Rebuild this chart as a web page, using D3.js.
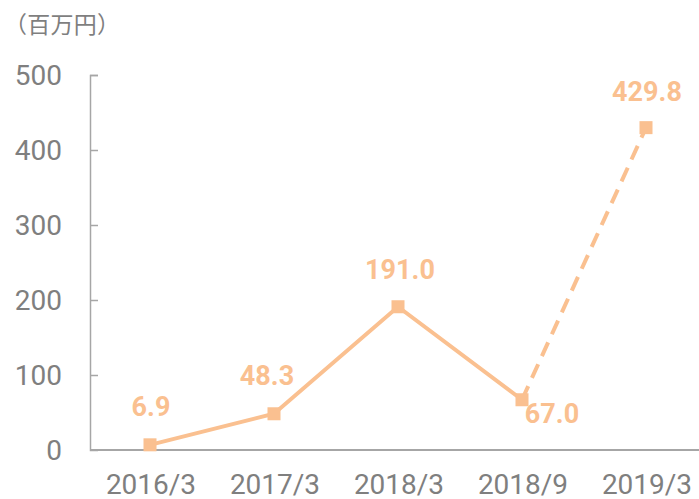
<!DOCTYPE html>
<html>
<head>
<meta charset="utf-8">
<script src="https://cdn.jsdelivr.net/npm/d3@7"></script>
<style>
  body { margin: 0; background: #fff; }
  text { font-family: Roboto, "Noto Sans CJK JP", sans-serif; }
</style>
</head>
<body>
<div id="chart"></div>
<script>
var categories = ["2016/3", "2017/3", "2018/3", "2018/9", "2019/3"];
var values = [6.9, 48.3, 191.0, 67.0, 429.8];
var yTicks = [0, 100, 200, 300, 400, 500];
var unitLabel = "（百万円）";

var width = 699, height = 499;
var orange = "#fac090", grey = "#7f7f7f", axisGrey = "#a6a6a6";

var svg = d3.select("#chart").append("svg")
    .attr("width", width)
    .attr("height", height);

var x = d3.scalePoint()
    .domain(categories)
    .range([88, 708])
    .padding(0.5);

var y = d3.scaleLinear()
    .domain([0, 500])
    .range([450, 75]);

// unit label
svg.append("text")
    .attr("x", 4)
    .attr("y", 33)
    .attr("fill", grey)
    .style("font-family", "'Noto Sans CJK JP', sans-serif")
    .style("font-size", "23px")
    .attr("textLength", 116)
    .text(unitLabel);

// y axis
var yAxis = svg.append("g")
    .attr("transform", "translate(90,0)")
    .call(d3.axisRight(y).tickValues(yTicks).tickSize(8).tickFormat(""));
yAxis.select(".domain").attr("stroke", axisGrey).attr("stroke-width", 1.5);
yAxis.selectAll(".tick line").attr("stroke", axisGrey).attr("stroke-width", 1.5);
yAxis.selectAll(".tick").filter(function(d) { return d === 0; }).remove();

svg.selectAll(".ylab")
    .data(yTicks)
    .enter().append("text")
    .attr("class", "ylab")
    .attr("x", 62)
    .attr("y", function(d) { return y(d) + 10; })
    .attr("text-anchor", "end")
    .attr("fill", grey)
    .style("font-size", "28px")
    .text(function(d) { return d; });

// x axis
svg.append("line")
    .attr("x1", 90).attr("x2", width)
    .attr("y1", y(0)).attr("y2", y(0))
    .attr("stroke", axisGrey)
    .attr("stroke-width", 2);

svg.selectAll(".xlab")
    .data(categories)
    .enter().append("text")
    .attr("class", "xlab")
    .attr("x", function(d) { return x(d) + 1; })
    .attr("y", 494)
    .attr("text-anchor", "middle")
    .attr("fill", grey)
    .style("font-size", "28px")
    .text(function(d) { return d; });

var pts = categories.map(function(c, i) { return {cat: c, v: values[i]}; });

var line = d3.line()
    .x(function(d) { return x(d.cat); })
    .y(function(d) { return y(d.v); });

svg.append("path")
    .datum(pts.slice(0, 4))
    .attr("d", line)
    .attr("fill", "none")
    .attr("stroke", orange)
    .attr("stroke-width", 4);

svg.append("path")
    .datum(pts.slice(3))
    .attr("d", line)
    .attr("fill", "none")
    .attr("stroke", orange)
    .attr("stroke-width", 4)
    .attr("stroke-dasharray", "15,9");

svg.selectAll(".marker")
    .data(pts)
    .enter().append("rect")
    .attr("class", "marker")
    .attr("x", function(d) { return x(d.cat) - 6.5; })
    .attr("y", function(d) { return y(d.v) - 6.5; })
    .attr("width", 13)
    .attr("height", 13)
    .attr("fill", orange);

// data labels
var labelOffsets = [[1, -29], [-7, -29], [2, -28], [30, 23], [1, -27]];
svg.selectAll(".dlab")
    .data(pts)
    .enter().append("text")
    .attr("class", "dlab")
    .attr("x", function(d, i) { return x(d.cat) + labelOffsets[i][0]; })
    .attr("y", function(d, i) { return y(d.v) + labelOffsets[i][1]; })
    .attr("text-anchor", "middle")
    .attr("fill", orange)
    .style("font-size", "27px")
    .style("font-weight", "bold")
    .text(function(d) { return d.v.toFixed(1); });
</script>
</body>
</html>
